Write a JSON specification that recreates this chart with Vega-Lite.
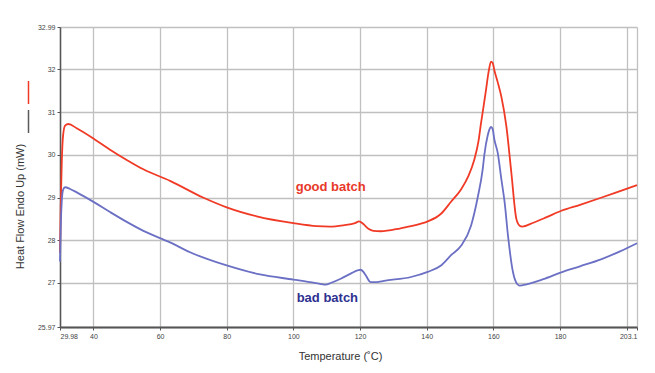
{
  "$schema": "https://vega.github.io/schema/vega-lite/v6.json",
  "autosize": {"type": "none"},
  "width": 577,
  "height": 300,
  "padding": {"left": 60, "top": 27, "right": 18, "bottom": 46},
  "background": "white",
  "config": {
    "view": {"stroke": null},
    "font": "Liberation Sans",
    "axis": {
      "gridColor": "#c0c0c0",
      "gridWidth": 1.3,
      "domainColor": "#555555",
      "tickColor": "#555555",
      "tickSize": 3,
      "labelFontSize": 7,
      "labelColor": "#444444",
      "labelPadding": 2,
      "titleFont": "Liberation Sans",
      "titleFontSize": 11,
      "titleFontWeight": "normal",
      "titleColor": "#333333"
    }
  },
  "datasets": {
    "curves": [
      {"T": 29.98, "HF": 27.7, "series": "good batch"},
      {"T": 30.2, "HF": 28.8, "series": "good batch"},
      {"T": 30.5, "HF": 29.8, "series": "good batch"},
      {"T": 30.9, "HF": 30.45, "series": "good batch"},
      {"T": 31.5, "HF": 30.68, "series": "good batch"},
      {"T": 32.5, "HF": 30.72, "series": "good batch"},
      {"T": 35, "HF": 30.62, "series": "good batch"},
      {"T": 40.4, "HF": 30.36, "series": "good batch"},
      {"T": 45, "HF": 30.12, "series": "good batch"},
      {"T": 50, "HF": 29.88, "series": "good batch"},
      {"T": 55, "HF": 29.66, "series": "good batch"},
      {"T": 63, "HF": 29.39, "series": "good batch"},
      {"T": 72.9, "HF": 29.0, "series": "good batch"},
      {"T": 80, "HF": 28.77, "series": "good batch"},
      {"T": 89, "HF": 28.56, "series": "good batch"},
      {"T": 100, "HF": 28.4, "series": "good batch"},
      {"T": 107, "HF": 28.33, "series": "good batch"},
      {"T": 111, "HF": 28.32, "series": "good batch"},
      {"T": 115, "HF": 28.35, "series": "good batch"},
      {"T": 118.5, "HF": 28.4, "series": "good batch"},
      {"T": 119.7, "HF": 28.44, "series": "good batch"},
      {"T": 121, "HF": 28.38, "series": "good batch"},
      {"T": 122.5, "HF": 28.27, "series": "good batch"},
      {"T": 124, "HF": 28.22, "series": "good batch"},
      {"T": 126.2, "HF": 28.21, "series": "good batch"},
      {"T": 132.2, "HF": 28.28, "series": "good batch"},
      {"T": 136, "HF": 28.34, "series": "good batch"},
      {"T": 140.3, "HF": 28.44, "series": "good batch"},
      {"T": 144.3, "HF": 28.62, "series": "good batch"},
      {"T": 147.3, "HF": 28.9, "series": "good batch"},
      {"T": 150.3, "HF": 29.19, "series": "good batch"},
      {"T": 152.5, "HF": 29.5, "series": "good batch"},
      {"T": 154.3, "HF": 29.89, "series": "good batch"},
      {"T": 155.5, "HF": 30.3, "series": "good batch"},
      {"T": 156.3, "HF": 30.74, "series": "good batch"},
      {"T": 157.1, "HF": 31.15, "series": "good batch"},
      {"T": 157.8, "HF": 31.52, "series": "good batch"},
      {"T": 158.6, "HF": 31.95, "series": "good batch"},
      {"T": 159.3, "HF": 32.18, "series": "good batch"},
      {"T": 159.8, "HF": 32.15, "series": "good batch"},
      {"T": 160.3, "HF": 31.98, "series": "good batch"},
      {"T": 161.3, "HF": 31.7, "series": "good batch"},
      {"T": 162.4, "HF": 31.36, "series": "good batch"},
      {"T": 163.9, "HF": 30.67, "series": "good batch"},
      {"T": 165.4, "HF": 29.58, "series": "good batch"},
      {"T": 166.9, "HF": 28.5, "series": "good batch"},
      {"T": 167.9, "HF": 28.34, "series": "good batch"},
      {"T": 168.6, "HF": 28.32, "series": "good batch"},
      {"T": 172, "HF": 28.41, "series": "good batch"},
      {"T": 176, "HF": 28.54, "series": "good batch"},
      {"T": 180.4, "HF": 28.69, "series": "good batch"},
      {"T": 186, "HF": 28.83, "series": "good batch"},
      {"T": 192.5, "HF": 29.0, "series": "good batch"},
      {"T": 198, "HF": 29.15, "series": "good batch"},
      {"T": 203.1, "HF": 29.29, "series": "good batch"},
      {"T": 29.98, "HF": 27.5, "series": "bad batch"},
      {"T": 30.2, "HF": 28.3, "series": "bad batch"},
      {"T": 30.5, "HF": 28.9, "series": "bad batch"},
      {"T": 30.9, "HF": 29.18, "series": "bad batch"},
      {"T": 31.5, "HF": 29.24, "series": "bad batch"},
      {"T": 33, "HF": 29.2, "series": "bad batch"},
      {"T": 35, "HF": 29.12, "series": "bad batch"},
      {"T": 40.4, "HF": 28.88, "series": "bad batch"},
      {"T": 45, "HF": 28.66, "series": "bad batch"},
      {"T": 50, "HF": 28.43, "series": "bad batch"},
      {"T": 55, "HF": 28.22, "series": "bad batch"},
      {"T": 63, "HF": 27.95, "series": "bad batch"},
      {"T": 69, "HF": 27.72, "series": "bad batch"},
      {"T": 80, "HF": 27.41, "series": "bad batch"},
      {"T": 90, "HF": 27.2, "series": "bad batch"},
      {"T": 100, "HF": 27.08, "series": "bad batch"},
      {"T": 105, "HF": 27.02, "series": "bad batch"},
      {"T": 108, "HF": 26.98, "series": "bad batch"},
      {"T": 109.7, "HF": 26.96, "series": "bad batch"},
      {"T": 111.2, "HF": 27.0, "series": "bad batch"},
      {"T": 114.2, "HF": 27.1, "series": "bad batch"},
      {"T": 117.2, "HF": 27.22, "series": "bad batch"},
      {"T": 119.5, "HF": 27.3, "series": "bad batch"},
      {"T": 120.2, "HF": 27.31, "series": "bad batch"},
      {"T": 121, "HF": 27.26, "series": "bad batch"},
      {"T": 121.7, "HF": 27.18, "series": "bad batch"},
      {"T": 123.2, "HF": 27.02, "series": "bad batch"},
      {"T": 125, "HF": 27.02, "series": "bad batch"},
      {"T": 127.2, "HF": 27.05, "series": "bad batch"},
      {"T": 135.3, "HF": 27.14, "series": "bad batch"},
      {"T": 140.3, "HF": 27.26, "series": "bad batch"},
      {"T": 144.3, "HF": 27.41, "series": "bad batch"},
      {"T": 147.3, "HF": 27.65, "series": "bad batch"},
      {"T": 150.3, "HF": 27.87, "series": "bad batch"},
      {"T": 153.3, "HF": 28.34, "series": "bad batch"},
      {"T": 155.3, "HF": 29.0, "series": "bad batch"},
      {"T": 156.8, "HF": 29.66, "series": "bad batch"},
      {"T": 157.3, "HF": 30.0, "series": "bad batch"},
      {"T": 158.3, "HF": 30.45, "series": "bad batch"},
      {"T": 158.8, "HF": 30.59, "series": "bad batch"},
      {"T": 159.3, "HF": 30.65, "series": "bad batch"},
      {"T": 159.8, "HF": 30.6, "series": "bad batch"},
      {"T": 160.3, "HF": 30.36, "series": "bad batch"},
      {"T": 161.3, "HF": 30.05, "series": "bad batch"},
      {"T": 162.4, "HF": 29.43, "series": "bad batch"},
      {"T": 163.4, "HF": 28.88, "series": "bad batch"},
      {"T": 164.4, "HF": 28.1, "series": "bad batch"},
      {"T": 165.9, "HF": 27.25, "series": "bad batch"},
      {"T": 167.2, "HF": 26.97, "series": "bad batch"},
      {"T": 167.9, "HF": 26.94, "series": "bad batch"},
      {"T": 170, "HF": 26.97, "series": "bad batch"},
      {"T": 175, "HF": 27.09, "series": "bad batch"},
      {"T": 180.4, "HF": 27.25, "series": "bad batch"},
      {"T": 186, "HF": 27.39, "series": "bad batch"},
      {"T": 192.5, "HF": 27.56, "series": "bad batch"},
      {"T": 198, "HF": 27.74, "series": "bad batch"},
      {"T": 203.1, "HF": 27.93, "series": "bad batch"}
    ],
    "labels": [
      {"T": 111.2, "HF": 29.24, "label": "good batch", "series": "good batch"},
      {"T": 110.2, "HF": 26.64, "label": "bad batch", "series": "bad batch"}
    ]
  },
  "layer": [
    {
      "data": {"name": "curves"},
      "mark": {"type": "line", "strokeWidth": 1.8, "interpolate": "monotone"},
      "encoding": {
        "x": {
          "field": "T", "type": "quantitative",
          "scale": {"domain": [29.98, 203.1], "nice": false, "zero": false},
          "axis": {
            "values": [29.98, 40, 60, 80, 100, 120, 140, 160, 180, 200, 203.1],
            "labelExpr": "datum.value == 200 ? '' : toString(datum.value)",
            "labelOverlap": false,
            "domainWidth": 2,
            "title": "Temperature (˚C)",
            "titleX": 280,
            "titleY": 29,
            "titleBaseline": "middle"
          }
        },
        "y": {
          "field": "HF", "type": "quantitative",
          "scale": {"domain": [25.97, 32.99], "nice": false, "zero": false},
          "axis": {
            "values": [25.97, 27, 28, 29, 30, 31, 32, 32.99],
            "labelExpr": "toString(datum.value)",
            "labelOverlap": false,
            "domainWidth": 1.5,
            "title": "Heat Flow Endo Up (mW)",
            "titleX": -40,
            "titleY": 179,
            "titleAngle": 270,
            "titleAlign": "center",
            "titleBaseline": "middle"
          }
        },
        "color": {
          "field": "series", "type": "nominal",
          "scale": {"domain": ["good batch", "bad batch"], "range": ["#f03a26", "#6b70c4"]},
          "legend": null
        }
      }
    },
    {
      "data": {"name": "labels"},
      "mark": {"type": "rule", "strokeWidth": 1.5},
      "encoding": {
        "x": {"field": "T", "type": "quantitative"},
        "x2": {"field": "T"},
        "y": {"field": "HF", "type": "quantitative"},
        "y2": {"field": "HF"},
        "stroke": {
          "field": "series", "type": "nominal",
          "scale": {"domain": ["good batch", "bad batch"], "range": ["#f03a26", "#5a5a5a"]},
          "legend": {
            "orient": "none",
            "legendX": -44,
            "legendY": 53,
            "title": null,
            "symbolType": "M0,-1L0,1",
            "symbolSize": 529,
            "symbolStrokeWidth": 1.5,
            "rowPadding": 0,
            "padding": 0,
            "labelExpr": "''",
            "labelOffset": 0,
            "labelFontSize": 1
          }
        }
      }
    },
    {
      "data": {"name": "labels"},
      "mark": {"type": "text", "fontWeight": "bold", "fontSize": 13, "font": "Liberation Sans", "align": "center", "baseline": "middle"},
      "encoding": {
        "x": {"field": "T", "type": "quantitative"},
        "y": {"field": "HF", "type": "quantitative"},
        "text": {"field": "label"},
        "color": {
          "field": "series", "type": "nominal",
          "scale": {"domain": ["good batch", "bad batch"], "range": ["#e8382a", "#2e3190"]},
          "legend": null
        }
      }
    }
  ],
  "resolve": {"scale": {"color": "independent", "stroke": "independent"}}
}
